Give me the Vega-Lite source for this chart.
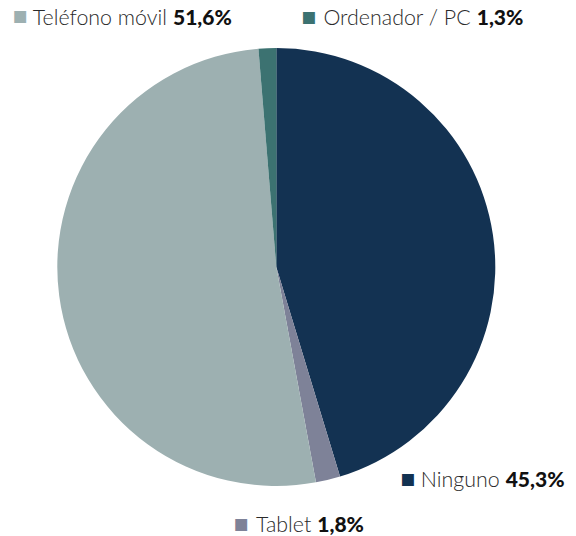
{
  "$schema": "https://vega.github.io/schema/vega-lite/v6.json",
  "autosize": {"type": "none"},
  "width": 552.6,
  "height": 534,
  "padding": {"left": 0, "top": 0, "right": 23.4, "bottom": 2},
  "background": "white",
  "config": {"view": {"stroke": null}},
  "data": {"values": [
    {"cat": "Ninguno", "value": 45.3, "label": "45,3%", "ord": 1},
    {"cat": "Tablet", "value": 1.8, "label": "1,8%", "ord": 2},
    {"cat": "Teléfono móvil", "value": 51.6, "label": "51,6%", "ord": 3},
    {"cat": "Ordenador / PC", "value": 1.3, "label": "1,3%", "ord": 4}
  ]},
  "encoding": {
    "theta": {"field": "value", "type": "quantitative", "stack": true},
    "order": {"field": "ord", "type": "quantitative"},
    "color": {"field": "cat", "type": "nominal", "legend": null,
      "scale": {"domain": ["Ninguno", "Tablet", "Teléfono móvil", "Ordenador / PC"],
                "range": ["#133252", "#7e8298", "#9db0b1", "#3c7271"]}}
  },
  "layer": [
    {"mark": {"type": "arc", "radius": 219}},

    {"mark": {"type": "text", "radius": 240, "font": "Lato", "fontWeight": 900, "fontSize": 21, "align": "left", "baseline": "alphabetic", "dx": 134.6, "dy": -273.9},
     "encoding": {"color": {"value": "#111111"}, "text": {"condition": {"test": "datum.cat === 'Teléfono móvil'", "field": "label"}, "value": ""}}},
    {"mark": {"type": "text", "radius": 240, "font": "Lato", "fontWeight": 300, "fontSize": 21.4, "align": "right", "baseline": "alphabetic", "dx": 128.6, "dy": -273.9},
     "encoding": {"color": {"value": "#2a2a2a"}, "text": {"condition": {"test": "datum.cat === 'Teléfono móvil'", "field": "cat"}, "value": ""}}},
    {"mark": {"type": "text", "radius": 240, "font": "DejaVu Sans", "fontSize": 15.5, "align": "center", "baseline": "middle", "dx": -18.1, "dy": -282.1},
     "encoding": {"text": {"condition": {"test": "datum.cat === 'Teléfono móvil'", "value": "■"}, "value": ""}}},

    {"mark": {"type": "text", "radius": 240, "font": "Lato", "fontWeight": 900, "fontSize": 21, "align": "left", "baseline": "alphabetic", "dx": 210.2, "dy": -2.5},
     "encoding": {"color": {"value": "#111111"}, "text": {"condition": {"test": "datum.cat === 'Ordenador / PC'", "field": "label"}, "value": ""}}},
    {"mark": {"type": "text", "radius": 240, "font": "Lato", "fontWeight": 300, "fontSize": 21.4, "align": "right", "baseline": "alphabetic", "dx": 204.2, "dy": -2.5},
     "encoding": {"color": {"value": "#2a2a2a"}, "text": {"condition": {"test": "datum.cat === 'Ordenador / PC'", "field": "cat"}, "value": ""}}},
    {"mark": {"type": "text", "radius": 240, "font": "DejaVu Sans", "fontSize": 15.5, "align": "center", "baseline": "middle", "dx": 42.7, "dy": -10.7},
     "encoding": {"text": {"condition": {"test": "datum.cat === 'Ordenador / PC'", "value": "■"}, "value": ""}}},

    {"mark": {"type": "text", "radius": 240, "font": "Lato", "fontWeight": 900, "fontSize": 21, "align": "left", "baseline": "alphabetic", "dx": -8, "dy": 255.3},
     "encoding": {"color": {"value": "#111111"}, "text": {"condition": {"test": "datum.cat === 'Ninguno'", "field": "label"}, "value": ""}}},
    {"mark": {"type": "text", "radius": 240, "font": "Lato", "fontWeight": 300, "fontSize": 21.4, "align": "right", "baseline": "alphabetic", "dx": -14, "dy": 255.3},
     "encoding": {"color": {"value": "#2a2a2a"}, "text": {"condition": {"test": "datum.cat === 'Ninguno'", "field": "cat"}, "value": ""}}},
    {"mark": {"type": "text", "radius": 240, "font": "DejaVu Sans", "fontSize": 15.5, "align": "center", "baseline": "middle", "dx": -105.5, "dy": 247.5},
     "encoding": {"text": {"condition": {"test": "datum.cat === 'Ninguno'", "value": "■"}, "value": ""}}},

    {"mark": {"type": "text", "radius": 240, "font": "Lato", "fontWeight": 900, "fontSize": 21, "align": "left", "baseline": "alphabetic", "dx": -15.8, "dy": 31.5},
     "encoding": {"color": {"value": "#111111"}, "text": {"condition": {"test": "datum.cat === 'Tablet'", "field": "label"}, "value": ""}}},
    {"mark": {"type": "text", "radius": 240, "font": "Lato", "fontWeight": 300, "fontSize": 21.4, "align": "right", "baseline": "alphabetic", "dx": -21.8, "dy": 31.5},
     "encoding": {"color": {"value": "#2a2a2a"}, "text": {"condition": {"test": "datum.cat === 'Tablet'", "field": "cat"}, "value": ""}}},
    {"mark": {"type": "text", "radius": 240, "font": "DejaVu Sans", "fontSize": 15.5, "align": "center", "baseline": "middle", "dx": -91.8, "dy": 24.3},
     "encoding": {"text": {"condition": {"test": "datum.cat === 'Tablet'", "value": "■"}, "value": ""}}}
  ]
}
